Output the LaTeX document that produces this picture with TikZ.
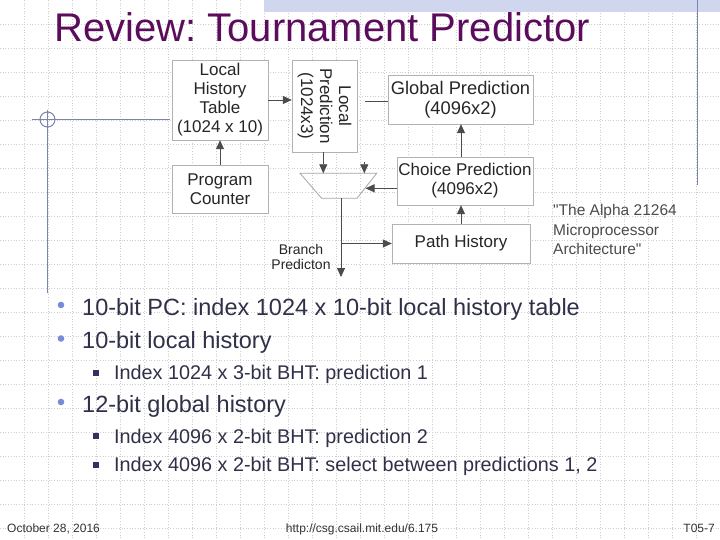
\documentclass[tikz,border=0pt]{standalone}
\usepackage{fontspec}
\setmainfont{Liberation Sans}[Ligatures=TeXOff]
\usetikzlibrary{arrows.meta,positioning}

\definecolor{titlepurple}{RGB}{92,12,92}
\definecolor{bodytext}{RGB}{48,48,72}
\definecolor{dotblue}{RGB}{120,138,216}
\definecolor{squarenavy}{RGB}{50,50,100}
\definecolor{framelines}{RGB}{122,132,172}
\definecolor{bandblue}{RGB}{208,214,238}
\definecolor{gridgray}{RGB}{205,205,205}

\newcommand{\sz}[2]{\fontsize{#1}{#2}\selectfont}
\frenchspacing

\begin{document}
\begin{tikzpicture}[x=1pt,y=-1pt,
    >={Triangle[length=9pt,width=8pt]},
    gridline/.style={gridgray,dotted,line width=0.7pt},
    deco/.style={framelines,line width=1pt},
    box/.style={draw=gray!60,fill=white,align=center,inner sep=0pt,
        text=black!85,font=\sz{17}{19}},
    link/.style={draw=black!70,line width=0.8pt},
    bulletline/.style={anchor=base west,inner sep=0pt,text=bodytext,font=\sz{23.5}{28}},
    subline/.style={anchor=base west,inner sep=0pt,text=bodytext,font=\sz{19.8}{24}},
    footer/.style={inner sep=0pt,text=black!80,font=\sz{12}{14}}]

    % slide background
    \useasboundingbox (0,0) rectangle (720,540);
    \fill[white] (0,0) rectangle (720,540);
    \foreach \gx in {24,48,...,696}
        \draw[gridline] (\gx,0) -- (\gx,540);
    \foreach \gy in {24,48,...,528}
        \draw[gridline] (0,\gy) -- (720,\gy);
    \fill[bandblue] (264,0) rectangle (720,12);
    \draw[deco] (697,0) -- (697,185);
    \draw[deco] (32,119.5) -- (170,119.5);
    \draw[deco] (47.5,110) -- (47.5,293);
    \draw[deco] (47.5,119.5) circle (7.5);

    % title
    \node[anchor=base west,inner sep=0pt,text=titlepurple,font=\sz{40}{44}]
        (title) at (54,42) {Review: Tournament Predictor};

    % predictor diagram
    \node[box,minimum width=96,minimum height=80]  (lht)    at (220,100)   {Local\\History\\Table\\(1024 x 10)};
    \node[box,minimum width=96,minimum height=48]  (pc)     at (220,189)   {Program\\Counter};
    \node[box,minimum width=65,minimum height=92]  (lpred)  at (324.5,106) {};
    \node[rotate=-90,align=center,inner sep=0pt,text=black!85,font=\sz{17}{19}]
        (lpredtext) at (lpred) {Local\\Prediction\\(1024x3)};
    \node[box,minimum width=145,minimum height=49,font=\sz{18.3}{20}]
        (gpred)  at (460.5,99.5) {Global Prediction\\(4096x2)};
    \node[box,minimum width=136,minimum height=48] (choice) at (465,181)   {Choice Prediction\\(4096x2)};
    \node[box,minimum width=138,minimum height=39] (path)   at (461,243.5) {Path History};

    % selector
    \draw[draw=gray!70,line width=0.8pt] (300,173.3) coordinate (mux_tl)
        -- (376.7,173.3) coordinate (mux_tr)
        -- (357,198.3) coordinate (mux_br)
        -- (321.7,198.3) coordinate (mux_bl) -- cycle;
    \coordinate (mux_in)   at (323.3,173.3);
    \coordinate (mux_in2)  at (364.3,173.3);
    \coordinate (mux_sel)  at (365.5,188.3);
    \coordinate (mux_out)  at (341,198.3);
    \coordinate (sel_stub) at (364.3,162);
    \coordinate (gp_stub)  at (365,101);
    \coordinate (bp_end)   at (341,277);

    \draw[link,->] (lht.east) -- (lht.east -| lpred.west);
    \draw[link]    (gp_stub) -- (gp_stub -| gpred.west);
    \draw[link,->] (pc.north) -- (lht.south);
    \draw[link,->] (lpred.south -| mux_in) -- (mux_in);
    \draw[link,->] (sel_stub) -- (mux_in2);
    \draw[link,->] (choice.west |- mux_sel) -- (mux_sel);
    \draw[link,->] (path.north) -- (path.north |- choice.south);
    \draw[link,->] (choice.north -| path) -- (gpred.south -| path);
    \draw[link,->] (mux_out) -- (bp_end);
    \draw[link,->] (mux_out |- path.west) -- (path.west);

    \node[align=center,inner sep=0pt,text=black!85,font=\sz{14}{15}]
        (bp_label) at (301,257) {Branch\\Predicton};
    \node[anchor=north west,align=left,inner sep=0pt,text=black!70,font=\sz{15.5}{19.5}]
        (cite) at (553,204.5) {"The Alpha 21264\\Microprocessor\\Architecture"};

    % bullets
    \fill[dotblue] (61,305) circle (3.3);
    \fill[dotblue] (61,338.5) circle (3.3);
    \fill[dotblue] (61,402) circle (3.3);
    \fill[squarenavy] (92.7,369.5) rectangle +(6,6);
    \fill[squarenavy] (92.7,433) rectangle +(6,6);
    \fill[squarenavy] (92.7,461.5) rectangle +(6,6);
    \node[bulletline] (b1)  at (82,315)   {10-bit PC: index 1024 x 10-bit local history table};
    \node[bulletline] (b2)  at (82,348.5) {10-bit local history};
    \node[subline]    (b21) at (114,379)  {Index 1024 x 3-bit BHT: prediction 1};
    \node[bulletline] (b3)  at (82,412)   {12-bit global history};
    \node[subline]    (b31) at (114,443)  {Index 4096 x 2-bit BHT: prediction 2};
    \node[subline]    (b32) at (114,471)  {Index 4096 x 2-bit BHT: select between predictions 1, 2};

    % footer
    \node[footer,anchor=base west] (date) at (7,532.5)   {October 28, 2016};
    \node[footer,anchor=base]      (url)  at (362,532.5) {http://csg.csail.mit.edu/6.175};
    \node[footer,anchor=base east] (page) at (715,532.5) {T05-7};
\end{tikzpicture}
\end{document}
